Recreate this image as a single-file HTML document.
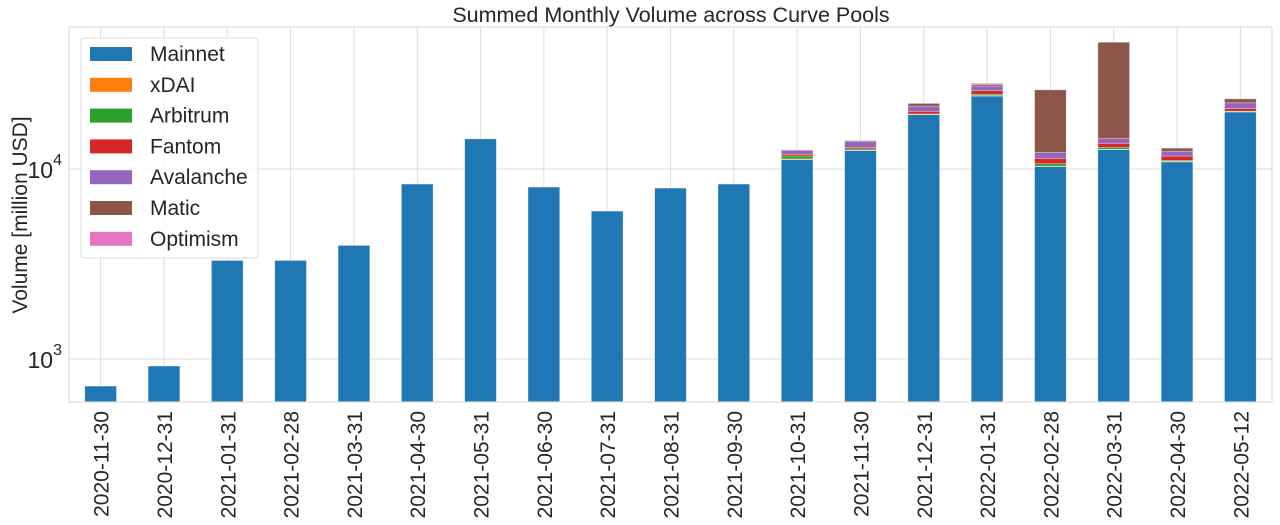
<!DOCTYPE html>
<html><head><meta charset="utf-8">
<style>
html,body{margin:0;padding:0;background:#fff;}
svg{display:block;font-family:"Liberation Sans",Arial,sans-serif;}
</style></head>
<body>
<svg id="chart" width="1280" height="525" viewBox="0 0 1280 525">
  <text x="671" y="22" text-anchor="middle" font-size="21.5" fill="#262626">Summed Monthly Volume across Curve Pools</text>
  <text transform="translate(27,215) rotate(-90)" text-anchor="middle" font-size="21" fill="#262626">Volume [million USD]</text>
  <g id="grid"></g>
  <g id="bars"></g>
  <g id="axes"></g>
  <g id="legend"></g>
</svg>
<script>
const categories = ["2020-11-30","2020-12-31","2021-01-31","2021-02-28","2021-03-31","2021-04-30","2021-05-31","2021-06-30","2021-07-31","2021-08-31","2021-09-30","2021-10-31","2021-11-30","2021-12-31","2022-01-31","2022-02-28","2022-03-31","2022-04-30","2022-05-12"];
const seriesNames = ["Mainnet","xDAI","Arbitrum","Fantom","Avalanche","Matic","Optimism"];
const seriesColors = ["#1f77b4","#ff7f0e","#2ca02c","#d62728","#9467bd","#8c564b","#e377c2"];
const mainnet   = [720,918,3300,3300,3960,8330,14400,8030,6000,7930,8330,11200,12500,19300,24200,10300,12650,10900,19950];
const xdai      = [0,0,0,0,0,0,0,0,0,0,0,100,60,60,150,60,60,80,80];
const arbitrum  = [0,0,0,0,0,0,0,0,0,0,0,400,200,120,400,300,300,120,120];
const fantom    = [0,0,0,0,0,0,0,0,0,0,0,250,250,650,1100,700,650,600,650];
const avalanche = [0,0,0,0,0,0,0,0,0,0,0,600,1000,1300,1500,850,800,700,1500];
const matic     = [0,0,0,0,0,0,0,0,0,0,0,60,100,700,500,13900,32000,470,1100];
const optimism  = [0,0,0,0,0,0,0,0,0,0,0,0,0,0,400,0,0,0,0];
const yTickValues = [1000,10000];
const yTickLabels = ["3","4"];

const series = [mainnet,xdai,arbitrum,fantom,avalanche,matic,optimism];
const NS="http://www.w3.org/2000/svg";
const L=69,R=1272,T=27,B=402;
const PX_PER_DEC=190, Y1E4=169;
function yScale(v){return Y1E4-(Math.log10(v)-4)*PX_PER_DEC;}
const step=(R-L)/categories.length;
function xCenter(i){return L+step*(i+0.5);}
const barW=step*0.5;
function mk(tag,attrs,parent){const e=document.createElementNS(NS,tag);for(const k in attrs)e.setAttribute(k,attrs[k]);parent.appendChild(e);return e;}
const grid=document.getElementById('grid'),bars=document.getElementById('bars'),axes=document.getElementById('axes'),legend=document.getElementById('legend');
categories.forEach((c,i)=>{const l=mk('line',{x1:xCenter(i),x2:xCenter(i),y1:T,y2:B,stroke:'#dcdcdc','stroke-width':1},grid);

});
yTickValues.forEach((v,i)=>{const y=yScale(v);const l=mk('line',{x1:L,x2:R,y1:y,y2:y,stroke:'#dcdcdc','stroke-width':1},grid);


const t=mk('text',{x:62,y:y+9,'text-anchor':'end','font-size':23,fill:'#262626'},axes);


t.textContent='10';const s=mk('tspan',{dy:-13,'font-size':16},t);s.textContent=yTickLabels[i];});
categories.forEach((c,i)=>{let cum=0;
  series.forEach((arr,si)=>{const v=arr[i];if(!v)return;
    const y0=cum===0?B+2:yScale(cum);cum+=v;const y1=yScale(cum);
    const r=mk('rect',{x:xCenter(i)-barW/2,y:y1,width:barW,height:Math.max(0,Math.min(y0,B)-y1),fill:seriesColors[si],stroke:'#ffffff','stroke-width':0.6,'stroke-opacity':0.5},bars);
    
    
  });
  const t=mk('text',{transform:`translate(${xCenter(i)+8},411) rotate(-90)`,'text-anchor':'end','font-size':21,fill:'#262626'},axes);
  
  
  t.textContent=c;
});
const f=mk('rect',{x:L,y:T,width:R-L,height:B-T,fill:'none',stroke:'#dcdcdc','stroke-width':1.2},axes);


const lb=mk('rect',{x:81,y:38,width:177,height:220,rx:3,fill:'#fff','fill-opacity':0.85,stroke:'#dcdcdc','stroke-width':1},legend);


seriesNames.forEach((n,i)=>{const cy=54+i*30.8;
  const g=mk('g',{},legend);
  
  
  mk('rect',{x:90,y:cy-7,width:42,height:14,fill:seriesColors[i]},g);
  const t=mk('text',{x:150,y:cy+7,'font-size':21,fill:'#262626'},g);t.textContent=n;});
</script>
</body></html>
